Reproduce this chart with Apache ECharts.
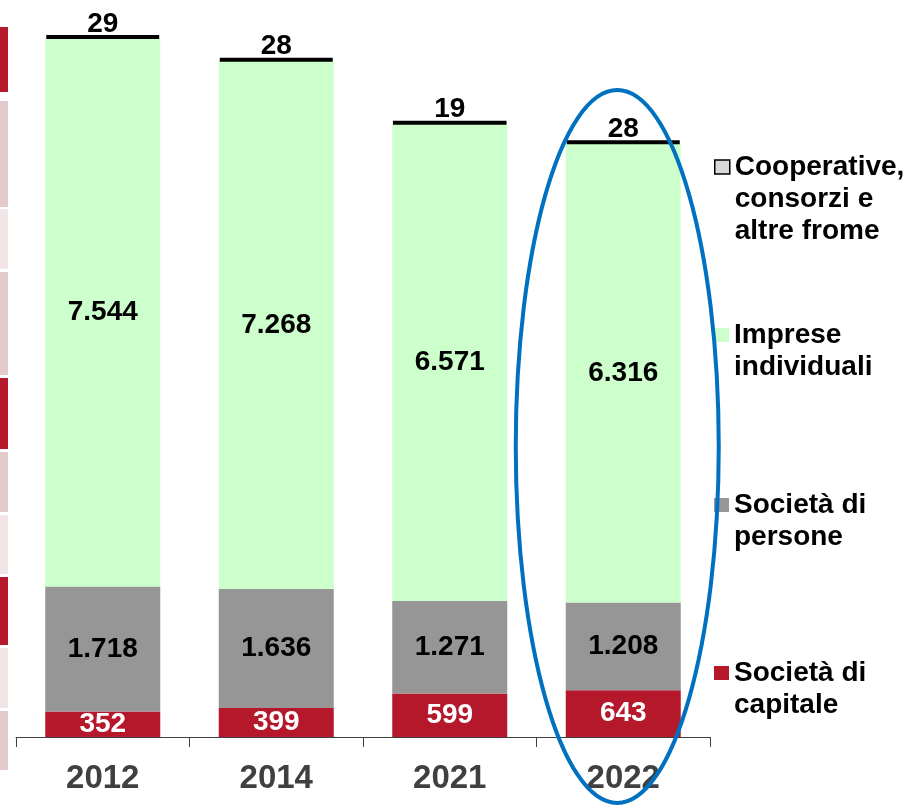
<!DOCTYPE html>
<html><head><meta charset="utf-8">
<script src="https://cdn.jsdelivr.net/npm/echarts@6/dist/echarts.min.js"></script>
<style>html,body{margin:0;padding:0;background:#fff}#c{width:906px;height:809px}</style>
</head><body><div id="c"></div>
<script>
// ---- data ----
const years = ['2012', '2014', '2021', '2022'];
const capitale = [352, 399, 599, 643];
const persone = [1718, 1636, 1271, 1208];
const individuali = [7544, 7268, 6571, 6316];
const cooperative = [29, 28, 19, 28];
const names = ['Società di capitale', 'Società di persone', 'Imprese individuali', 'Cooperative, consorzi e altre frome'];
const legendText = ['Società di\ncapitale', 'Società di\npersone', 'Imprese\nindividuali', 'Cooperative,\nconsorzi e\naltre frome'];
const highlightYear = '2022';

// ---- style ----
const FONT = "'Liberation Sans', Arial, sans-serif";
const colors = ['#b5172b', '#969696', '#ccffcc', '#000000'];
const legendIconColors = ['#b5172b', '#969696', '#ccffcc', '#d9d9d9'];
const legendCenters = [673, 505, 335, 167];
const LH = 32;

function fmt(n) { return String(n).replace(/\B(?=(\d{3})+(?!\d))/g, '.'); }

const chart = echarts.init(document.getElementById('c'), null, { renderer: 'canvas' });

const labelBase = { show: true, position: 'inside', fontFamily: FONT, fontWeight: 'bold', fontSize: 28, formatter: p => fmt(p.value) };

const legends = names.map((nm, i) => {
  const lines = legendText[i].split('\n');
  const n = lines.length;
  // pad with empty lines above so that the first line sits level with the icon
  const txt = '\n'.repeat(n - 1) + legendText[i];
  return {
    show: true, orient: 'vertical', left: 714,
    top: legendCenters[i] - (2 * n - 1) * LH / 2,
    padding: 0, itemWidth: 15, itemHeight: 14, itemGap: 6,
    icon: 'rect',
    selectedMode: false,
    data: [{ name: nm, itemStyle: { color: legendIconColors[i], borderColor: i === 3 ? '#000' : legendIconColors[i], borderWidth: i === 3 ? 1.5 : 0 } }],
    formatter: () => txt,
    textStyle: { fontFamily: FONT, fontWeight: 'bold', fontSize: 28, color: '#000', lineHeight: LH }
  };
});

chart.setOption({
  animation: false,
  backgroundColor: '#ffffff',
  grid: { left: 16, right: 196, top: 10, bottom: 72, containLabel: false },
  legend: legends,
  xAxis: {
    type: 'category', data: years,
    axisLine: { show: true, lineStyle: { color: '#404040', width: 1 } },
    axisTick: { show: true, length: 10, lineStyle: { color: '#404040', width: 1 } },
    axisLabel: { margin: 25, fontFamily: FONT, fontWeight: 'bold', fontSize: 33, color: '#404040' }
  },
  yAxis: { type: 'value', min: 0, max: 10000, show: false, splitLine: { show: false } },
  series: [
    { name: names[0], type: 'bar', stack: 't', data: capitale, barWidth: 115, itemStyle: { color: colors[0] }, label: Object.assign({}, labelBase, { color: '#ffffff' }) },
    { name: names[1], type: 'bar', stack: 't', data: persone, barWidth: 115, itemStyle: { color: colors[1] }, label: Object.assign({}, labelBase, { color: '#000000' }) },
    { name: names[2], type: 'bar', stack: 't', data: individuali, barWidth: 115, itemStyle: { color: colors[2] }, label: Object.assign({}, labelBase, { color: '#000000' }) },
    { name: names[3], type: 'bar', stack: 't', data: cooperative, barWidth: 115, itemStyle: { color: colors[3], borderColor: '#000', borderWidth: 4 }, label: Object.assign({}, labelBase, { position: 'top', distance: -3, color: '#000000' }) }
  ]
});

// decorations: cut-off table strips on the left and the highlight ellipse
const strips = [
  [27, 92, '#b5172b'], [101, 207, '#e5cacb'], [209, 269, '#f2e5e5'], [272, 375, '#e5cacb'],
  [378, 449, '#b5172b'], [452, 512, '#e5cacb'], [515, 574, '#f2e5e5'], [577, 645, '#b5172b'],
  [648, 708, '#f2e5e5'], [711, 770, '#e5cacb']
];
const hx = chart.convertToPixel({ xAxisIndex: 0 }, years.indexOf(highlightYear));
const graphics = strips.map(s => ({ type: 'rect', shape: { x: 0, y: s[0], width: 8, height: s[1] - s[0] }, style: { fill: s[2] }, silent: true }));
graphics.push({ type: 'ellipse', shape: { cx: hx - 6, cy: 446.5, rx: 101.5, ry: 356.5 }, style: { fill: 'none', stroke: '#0070c0', lineWidth: 4 }, z: 100, silent: true });
chart.setOption({ graphic: graphics });
</script>
</body></html>
